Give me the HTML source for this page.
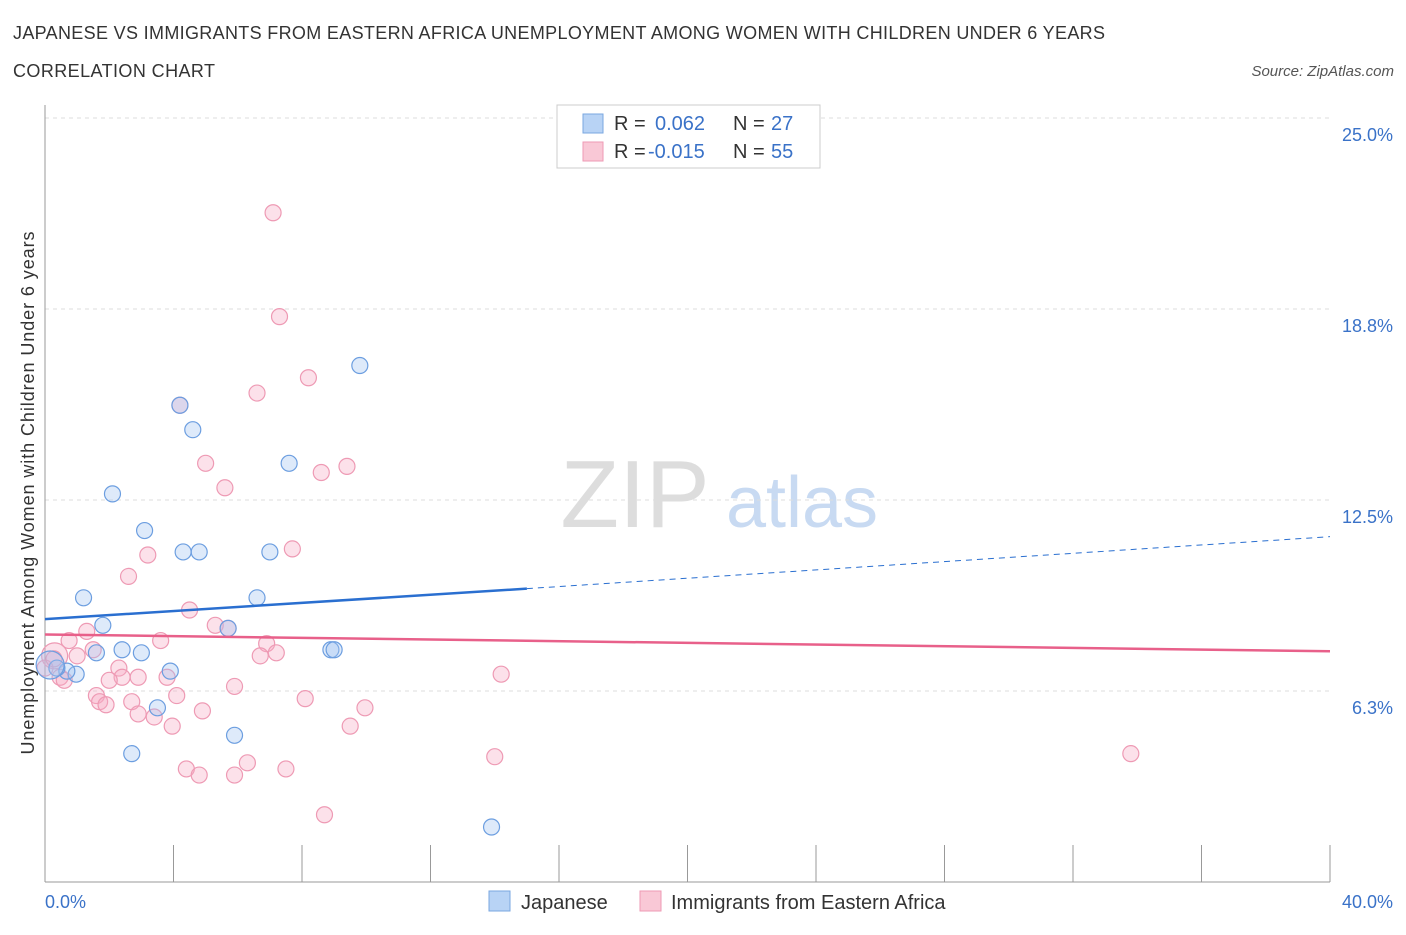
<!DOCTYPE html>
<html><head><meta charset="utf-8"><style>
body{margin:0;background:#fff;font-family:"Liberation Sans",sans-serif;}
svg text{font-family:"Liberation Sans",sans-serif;}
</style></head><body>
<svg width="1406" height="930" xmlns="http://www.w3.org/2000/svg">
<text x="13" y="39" font-size="18" fill="#333" textLength="1092">JAPANESE VS IMMIGRANTS FROM EASTERN AFRICA UNEMPLOYMENT AMONG WOMEN WITH CHILDREN UNDER 6 YEARS</text>
<text x="13" y="77" font-size="18" fill="#333" textLength="202">CORRELATION CHART</text>
<text x="1394" y="76" font-size="15" fill="#555" font-style="italic" text-anchor="end">Source: ZipAtlas.com</text>
<text x="635" y="527" font-size="96" fill="#ddd" font-family="Liberation Serif" text-anchor="middle">ZIP</text>
<text x="802" y="527" font-size="72" fill="#c8daf2" text-anchor="middle">atlas</text>
<g id="grid"></g>
<line x1="45" y1="105" x2="45" y2="882" stroke="#999"/>
<line x1="45" y1="882" x2="1330" y2="882" stroke="#999"/>
<g id="ticks"></g>
<text x="34" y="493" font-size="18" fill="#333" text-anchor="middle" textLength="523" transform="rotate(-90 34 493)">Unemployment Among Women with Children Under 6 years</text>
<text x="45" y="908" font-size="18" fill="#3a72c8">0.0%</text>
<text x="1393" y="908" font-size="18" fill="#3a72c8" text-anchor="end">40.0%</text>
<g id="pts"></g>
<g id="lines"></g>
<g>
<rect x="557" y="105" width="263" height="63" fill="#fff" stroke="#ccc"/>
<rect x="583" y="114" width="20" height="19" fill="#b8d3f5" stroke="#7aa7e0"/>
<rect x="583" y="142" width="20" height="19" fill="#f9c8d6" stroke="#ee9ab4"/>
<text x="614" y="130" font-size="20" fill="#333">R = <tspan x="655" fill="#3a72c8">0.062</tspan><tspan x="733">N = </tspan><tspan x="771" fill="#3a72c8">27</tspan></text>
<text x="614" y="158" font-size="20" fill="#333">R = <tspan x="648" fill="#3a72c8">-0.015</tspan><tspan x="733">N = </tspan><tspan x="771" fill="#3a72c8">55</tspan></text>
</g>
<g>
<rect x="489" y="891" width="21" height="20" fill="#b8d3f5" stroke="#7aa7e0"/>
<text x="521" y="909" font-size="20" fill="#333">Japanese</text>
<rect x="640" y="891" width="21" height="20" fill="#f9c8d6" stroke="#ee9ab4"/>
<text x="671" y="909" font-size="20" fill="#333">Immigrants from Eastern Africa</text>
</g>
</svg>
<script>
const yTicks=[6.25,12.5,18.75,25];
const yTickLabels=["6.3%","12.5%","18.8%","25.0%"];
const xTicks=[4,8,12,16,20,24,28,32,36,40];
const japX=[4.2,4.6,9.8,7.6,2.1,3.1,4.3,4.8,7.0,1.2,6.6,1.8,5.7,2.4,3.0,8.9,9.0,3.9,0.97,0.68,0.37,0.16,3.5,5.9,2.7,13.9,1.6];
const japY=[15.6,14.8,16.9,13.7,12.7,11.5,10.8,10.8,10.8,9.3,9.3,8.4,8.3,7.6,7.5,7.6,7.6,6.9,6.8,6.9,7.0,7.1,5.7,4.8,4.2,1.8,7.5];
const japR=[8,8,8,8,8,8,8,8,8,8,8,8,8,8,8,8,8,8,8,8,8,14,8,8,8,8,8];
const eafX=[7.1,7.3,8.2,6.6,4.2,5.0,8.6,9.4,5.6,7.7,3.2,2.6,4.5,5.3,5.7,3.6,0.75,1.3,1.5,1.0,2.3,6.9,7.2,6.7,3.8,2.9,2.4,5.9,4.1,1.6,1.7,1.9,2.7,2.9,3.4,4.9,8.1,9.96,9.5,3.96,4.4,4.8,5.9,6.3,7.5,8.7,14.0,14.2,33.8,0.3,0.47,0.6,0.0,0.28,2.0];
const eafY=[21.9,18.5,16.5,16.0,15.6,13.7,13.4,13.6,12.9,10.9,10.7,10.0,8.9,8.4,8.3,7.9,7.9,8.2,7.6,7.4,7.0,7.8,7.5,7.4,6.7,6.7,6.7,6.4,6.1,6.1,5.9,5.8,5.9,5.5,5.4,5.6,6.0,5.7,5.1,5.1,3.7,3.5,3.5,3.9,3.7,2.2,4.1,6.8,4.2,7.4,6.7,6.6,7.0,7.3,6.6];
const eafR=eafX.map((v,i)=>i===49?13:8);
const X=v=>45+v/40*1285, Y=v=>882-v*30.56;
const ns="http://www.w3.org/2000/svg";
function mk(t,a,p){const e=document.createElementNS(ns,t);for(const k in a)e.setAttribute(k,a[k]);document.getElementById(p).appendChild(e);return e;}
yTicks.forEach((t,i)=>{
 const l=mk('line',{x1:45,x2:1330,y1:Y(t),y2:Y(t),stroke:'#ddd','stroke-dasharray':'4,4'},'grid');
 
 
 const tx=mk('text',{x:1393,y:Y(t)+23,'font-size':18,fill:'#3a72c8','text-anchor':'end'},'grid');
 tx.textContent=yTickLabels[i];
 
 
});
xTicks.forEach(t=>{
 const l=mk('line',{x1:X(t),x2:X(t),y1:845,y2:882,stroke:'#999'},'ticks');
 
 
});
eafX.forEach((v,i)=>{
 const c=mk('circle',{cx:X(v),cy:Y(eafY[i]),r:eafR[i],fill:'rgba(246,170,195,0.35)',stroke:'#ee9ab4','stroke-width':1.2},'pts');
 
 
});
japX.forEach((v,i)=>{
 const c=mk('circle',{cx:X(v),cy:Y(japY[i]),r:japR[i],fill:'rgba(160,196,240,0.35)',stroke:'#6c9ee0','stroke-width':1.2},'pts');
 
 
});
const jl=mk('line',{x1:X(0),y1:Y(8.6),x2:X(15),y2:Y(9.6),stroke:'#2a6fd0','stroke-width':2.5},'lines');


const jd=mk('line',{x1:X(15),y1:Y(9.6),x2:X(40),y2:Y(11.3),stroke:'#2a6fd0','stroke-width':1,'stroke-dasharray':'6,5'},'lines');


const el=mk('line',{x1:X(0),y1:Y(8.1),x2:X(40),y2:Y(7.55),stroke:'#e8608a','stroke-width':2.5},'lines');


</script>
</body></html>
